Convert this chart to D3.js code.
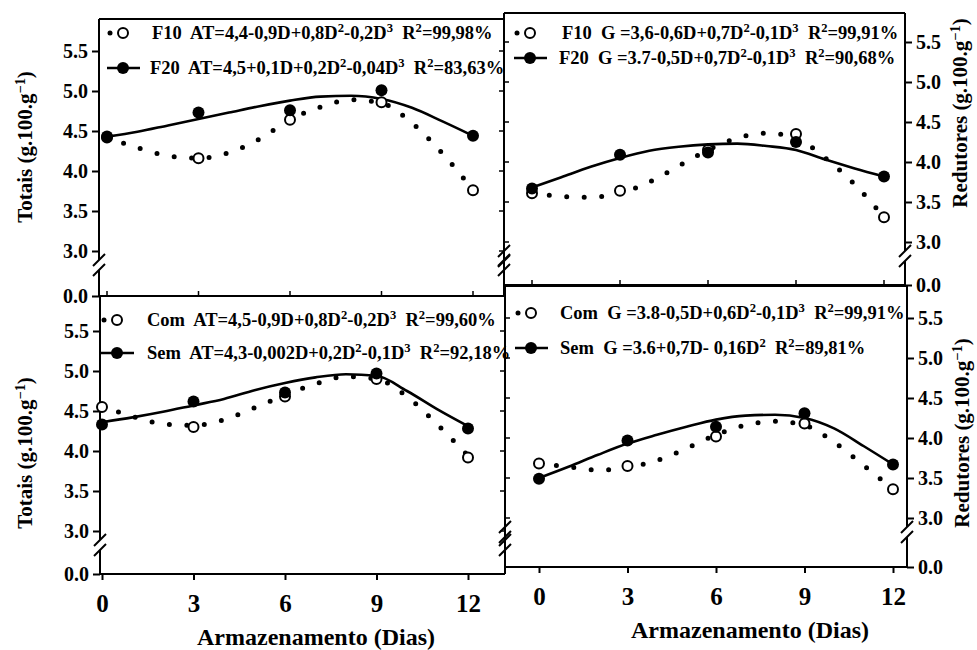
<!DOCTYPE html>
<html>
<head>
<meta charset="utf-8">
<script src="https://cdn.jsdelivr.net/npm/d3@7"></script>
<style>
  body { margin: 0; background: #fff; }
  svg text { font-family: "Liberation Serif", "DejaVu Serif", serif; font-weight: bold; white-space: pre; }
</style>
</head>
<body>
<div id="chart"></div>
<script>
// storage days (observed) and days used for the fitted curves
var days = [0, 3, 6, 9, 12];
var fitDays = [0, 1, 2, 3, 4, 5, 6, 7, 8, 9, 10, 11, 12];
var yTicks = [0, 3, 3.5, 4, 4.5, 5, 5.5];

// Totais - F10 / F20
var totF10 = [4.42, 4.16, 4.64, 4.86, 3.76];
var totF20 = [4.43, 4.73, 4.76, 5.01, 4.44];
var totF10Fit = [4.42, 4.29, 4.19, 4.16, 4.23, 4.40, 4.64, 4.80, 4.89, 4.85, 4.60, 4.22, 3.76];
var totF20Fit = [4.43, 4.49, 4.57, 4.65, 4.73, 4.81, 4.88, 4.93, 4.94, 4.90, 4.79, 4.62, 4.44];

// Redutores - F10 / F20
var redF10 = [3.61, 3.64, 4.15, 4.35, 3.31];
var redF20 = [3.67, 4.09, 4.12, 4.25, 3.82];
var redF10Fit = [3.62, 3.57, 3.56, 3.61, 3.75, 3.95, 4.15, 4.30, 4.36, 4.30, 4.05, 3.72, 3.31];
var redF20Fit = [3.68, 3.81, 3.94, 4.05, 4.14, 4.19, 4.22, 4.23, 4.20, 4.15, 4.03, 3.92, 3.82];

// Totais - Com / Sem
var totCom = [4.55, 4.30, 4.68, 4.90, 3.92];
var totSem = [4.33, 4.62, 4.73, 4.97, 4.28];
var totComFit = [4.56, 4.43, 4.34, 4.32, 4.39, 4.54, 4.70, 4.84, 4.93, 4.90, 4.68, 4.33, 3.94];
var totSemFit = [4.36, 4.42, 4.49, 4.57, 4.65, 4.76, 4.85, 4.92, 4.96, 4.94, 4.75, 4.52, 4.31];

// Redutores - Com / Sem
var redCom = [3.68, 3.65, 4.02, 4.18, 3.36];
var redSem = [3.49, 3.97, 4.14, 4.31, 3.67];
var redComFit = [3.68, 3.64, 3.60, 3.63, 3.72, 3.87, 4.04, 4.16, 4.21, 4.16, 3.95, 3.66, 3.36];
var redSemFit = [3.50, 3.64, 3.79, 3.93, 4.04, 4.14, 4.23, 4.28, 4.29, 4.25, 4.12, 3.90, 3.67];

// legend equations ("^n" = superscript)
var legTL = ["F10  AT=4,4-0,9D+0,8D^2-0,2D^3  R^2=99,98%", "F20  AT=4,5+0,1D+0,2D^2-0,04D^3  R^2=83,63%"];
var legTR = ["F10  G =3,6-0,6D+0,7D^2-0,1D^3  R^2=99,91%", "F20  G =3.7-0,5D+0,7D^2-0,1D^3  R^2=90,68%"];
var legBL = ["Com  AT=4,5-0,9D+0,8D^2-0,2D^3  R^2=99,60%", "Sem  AT=4,3-0,002D+0,2D^2-0,1D^3  R^2=92,18%"];
var legBR = ["Com  G =3.8-0,5D+0,6D^2-0,1D^3  R^2=99,91%", "Sem  G =3.6+0,7D- 0,16D^2  R^2=89,81%"];

var svg = d3.select("#chart").append("svg")
  .attr("width", 977)
  .attr("height", 650);

// panel layout (scanned figure, so the panels are not perfectly aligned)
var panels = [
  {x0: 99, x1: 504, top: 19, bottom: 296, d0: 107, d12: 473, y3: 251, y55: 51, side: "left",
   open: totF10, filled: totF20, openFit: totF10Fit, filledFit: totF20Fit, leg: legTL,
   legX: 110, legY: [33, 68], textX: [152, 150], xAxis: false},
  {x0: 504, x1: 905, top: 13, bottom: 285, d0: 532, d12: 884, y3: 242, y55: 42, side: "right",
   open: redF10, filled: redF20, openFit: redF10Fit, filledFit: redF20Fit, leg: legTR,
   legX: 517, legY: [33, 58], textX: [562, 559], xAxis: false},
  {x0: 100, x1: 505, top: 296, bottom: 574, d0: 102, d12: 468, y3: 531, y55: 331, side: "left",
   open: totCom, filled: totSem, openFit: totComFit, filledFit: totSemFit, leg: legBL,
   legX: 104, legY: [320, 353], textX: [147, 147], xAxis: true},
  {x0: 505, x1: 907, top: 286, bottom: 567, d0: 539, d12: 893, y3: 518, y55: 318, side: "right",
   open: redCom, filled: redSem, openFit: redComFit, filledFit: redSemFit, leg: legBR,
   legX: 518, legY: [313, 348], textX: [560, 560], xAxis: true}
];

var serif = "'Liberation Serif', 'DejaVu Serif', serif";

function richText(sel, str) {
  var parts = str.split(/\^(-?\d)/);
  parts.forEach(function(p, i) {
    if (i % 2 === 0) {
      var t = sel.append("tspan").text(p);
      if (i > 0) t.attr("dy", 7);
    } else {
      sel.append("tspan").text(p.replace("-", "\u2212")).attr("dy", -7).style("font-size", "0.68em");
    }
  });
}

panels.forEach(function(p) {
  var x = d3.scaleLinear().domain([0, 12]).range([p.d0, p.d12]);
  // broken axis: 0 sits at the frame bottom, 3.0 - 5.5 is the real scale
  var y = d3.scaleLinear().domain([0, 3, 5.5]).range([p.bottom, p.y3, p.y55]);
  var g = svg.append("g");
  var yb = p.y3 + 14;

  // frame
  g.append("line").attr("x1", p.x0).attr("x2", p.x1).attr("y1", p.top).attr("y2", p.top);
  g.append("line").attr("x1", p.x0).attr("x2", p.x1).attr("y1", p.bottom).attr("y2", p.bottom);
  [p.x0, p.x1].forEach(function(xx) {
    g.append("line").attr("x1", xx).attr("x2", xx).attr("y1", p.top).attr("y2", yb - 5);
    g.append("line").attr("x1", xx).attr("x2", xx).attr("y1", yb + 5).attr("y2", p.bottom);
    [-5, 5].forEach(function(o) {
      g.append("line")
        .attr("x1", xx - 6).attr("y1", yb + o + 6)
        .attr("x2", xx + 6).attr("y2", yb + o - 6);
    });
  });
  g.selectAll("line").attr("stroke", "#000").attr("stroke-width", 2);

  // y axis with values
  var axisX = p.side === "left" ? p.x0 : p.x1;
  var yAxis = (p.side === "left" ? d3.axisLeft(y) : d3.axisRight(y))
    .tickValues(yTicks)
    .tickFormat(d3.format(".1f"))
    .tickSize(7)
    .tickPadding(4);
  var ya = svg.append("g")
    .attr("transform", "translate(" + axisX + ",0)")
    .call(yAxis)
    .attr("font-family", serif);
  ya.select(".domain").remove();
  ya.selectAll("line").attr("stroke-width", 2);
  ya.selectAll("text").style("font-size", "20px");

  // small ticks on the inner side
  var innerX = p.side === "left" ? p.x1 : p.x0;
  var innerDir = p.side === "left" ? -5 : 5;
  svg.append("g").selectAll("line")
    .data(yTicks.slice(1))
    .enter().append("line")
    .attr("x1", innerX).attr("x2", innerX + innerDir)
    .attr("y1", d => y(d)).attr("y2", d => y(d))
    .attr("stroke", "#000").attr("stroke-width", 1.5);

  // x axis
  if (p.xAxis) {
    var xAxis = d3.axisBottom(x).tickValues(days).tickSize(6).tickPadding(14);
    var xa = svg.append("g")
      .attr("transform", "translate(0," + p.bottom + ")")
      .call(xAxis)
      .attr("font-family", serif);
    xa.select(".domain").remove();
    xa.selectAll("line").attr("stroke-width", 2);
    xa.selectAll("text").style("font-size", "25px");
  } else {
    svg.append("g").selectAll("line")
      .data(days)
      .enter().append("line")
      .attr("x1", d => x(d)).attr("x2", d => x(d))
      .attr("y1", p.bottom).attr("y2", p.bottom - 5)
      .attr("stroke", "#000").attr("stroke-width", 1.5);
  }

  // fitted curves
  var line = d3.line()
    .x((d, i) => x(fitDays[i]))
    .y(d => y(d))
    .curve(d3.curveMonotoneX);

  svg.append("path")
    .attr("d", line(p.openFit))
    .attr("fill", "none")
    .attr("stroke", "#000")
    .attr("stroke-width", 5)
    .attr("stroke-linecap", "round")
    .attr("stroke-dasharray", "0 17.5");

  svg.append("path")
    .attr("d", line(p.filledFit))
    .attr("fill", "none")
    .attr("stroke", "#000")
    .attr("stroke-width", 2.6);

  // observed points
  svg.append("g").selectAll("circle")
    .data(p.open)
    .enter().append("circle")
    .attr("cx", (d, i) => x(days[i]))
    .attr("cy", d => y(d))
    .attr("r", 5)
    .attr("fill", "#fff")
    .attr("stroke", "#000")
    .attr("stroke-width", 2);

  svg.append("g").selectAll("circle")
    .data(p.filled)
    .enter().append("circle")
    .attr("cx", (d, i) => x(days[i]))
    .attr("cy", d => y(d))
    .attr("r", 6)
    .attr("fill", "#000");

  // legend
  var lg = svg.append("g");
  lg.append("circle").attr("cx", p.legX).attr("cy", p.legY[0]).attr("r", 2.5).attr("fill", "#000");
  lg.append("circle").attr("cx", p.legX + 13).attr("cy", p.legY[0]).attr("r", 5)
    .attr("fill", "#fff").attr("stroke", "#000").attr("stroke-width", 2);
  lg.append("line").attr("x1", p.legX - 3).attr("x2", p.legX + 30)
    .attr("y1", p.legY[1]).attr("y2", p.legY[1])
    .attr("stroke", "#000").attr("stroke-width", 2.6);
  lg.append("circle").attr("cx", p.legX + 13).attr("cy", p.legY[1]).attr("r", 6).attr("fill", "#000");

  p.leg.forEach(function(s, i) {
    var t = lg.append("text")
      .attr("x", p.textX[i])
      .attr("y", p.legY[i] + 6)
      .style("font-size", "18.5px");
    richText(t, s);
  });
});

// axis titles
function yTitle(label, cx, cy) {
  var t = svg.append("text")
    .attr("transform", "translate(" + cx + "," + cy + ") rotate(-90)")
    .attr("text-anchor", "middle")
    .attr("dy", "0.35em")
    .style("font-size", "21px");
  richText(t, label);
}
yTitle("Totais (g.100.g^-1)", 25, 147);
yTitle("Totais (g.100.g^-1)", 25, 453);
yTitle("Redutores (g.100.g^-1)", 960, 113);
yTitle("Redutores (g.100.g^-1)", 962, 433);

svg.append("text")
  .attr("x", 316).attr("y", 645)
  .attr("text-anchor", "middle")
  .style("font-size", "24px")
  .text("Armazenamento (Dias)");

svg.append("text")
  .attr("x", 750).attr("y", 638)
  .attr("text-anchor", "middle")
  .style("font-size", "24px")
  .text("Armazenamento (Dias)");
</script>
</body>
</html>
